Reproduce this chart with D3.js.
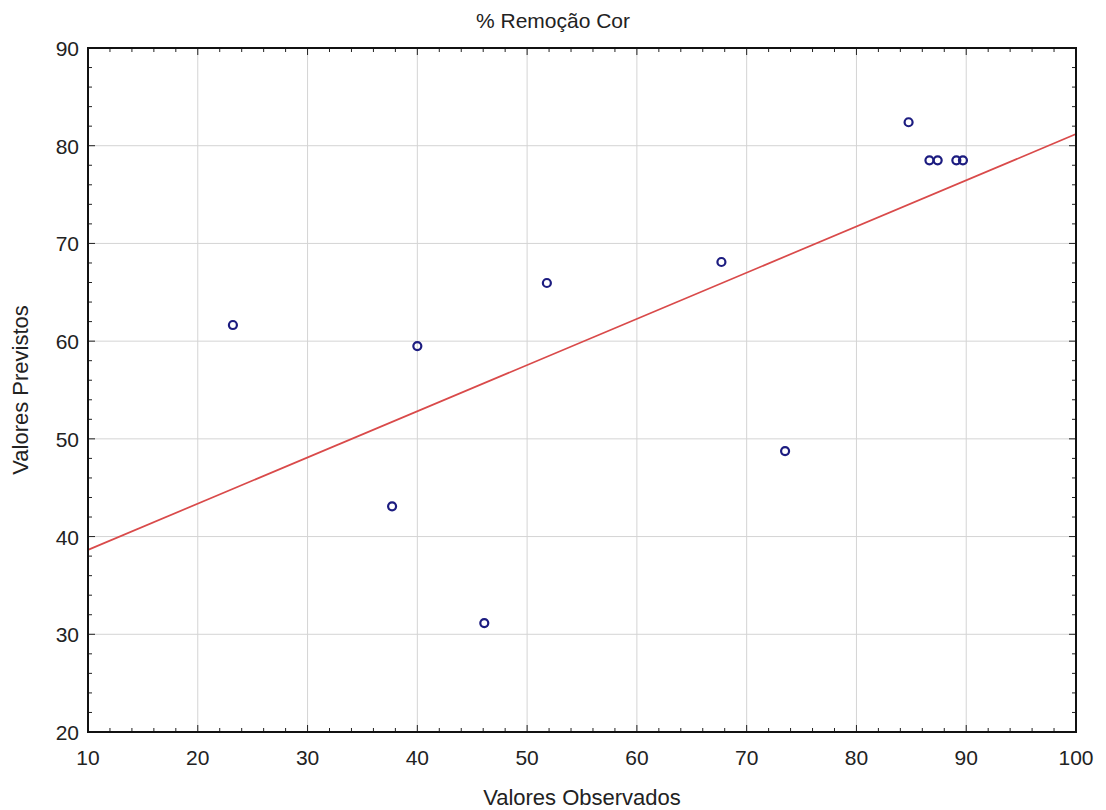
<!DOCTYPE html>
<html>
<head>
<meta charset="utf-8">
<script src="https://cdnjs.cloudflare.com/ajax/libs/d3/7.8.5/d3.min.js"></script>
<style>
  body { margin: 0; background: #fff; }
  text { font-family: "Liberation Sans", Arial, sans-serif; fill: #222; }
</style>
</head>
<body>
<div id="chart"></div>
<script>
// Data
const observed  = [23.2, 40.0, 37.7, 46.1, 51.8, 67.7, 73.5, 84.75, 86.65, 87.4, 89.1, 89.7];
const predicted = [61.65, 59.5, 43.1, 31.15, 65.95, 68.1, 48.75, 82.4, 78.5, 78.5, 78.5, 78.5];
const xTicks = [10, 20, 30, 40, 50, 60, 70, 80, 90, 100];
const yTicks = [20, 30, 40, 50, 60, 70, 80, 90];

const titleText = "% Remoção Cor";
const xLabel = "Valores Observados";
const yLabel = "Valores Previstos";

// Layout
const W = 1106, H = 810;
const margin = { top: 48, right: 30, bottom: 78, left: 88 },
    width = W - margin.left - margin.right,
    height = H - margin.top - margin.bottom;

const svg = d3.select("#chart").append("svg")
    .attr("width", W)
    .attr("height", H);

const g = svg.append("g")
    .attr("transform", "translate(" + margin.left + "," + margin.top + ")");

const x = d3.scaleLinear().domain([10, 100]).range([0, width]);
const y = d3.scaleLinear().domain([20, 90]).range([height, 0]);

// grid
g.append("g").selectAll("line").data(xTicks.slice(1, -1)).enter().append("line")
    .attr("x1", d => x(d)).attr("x2", d => x(d))
    .attr("y1", 0).attr("y2", height)
    .attr("stroke", "#d4d4d4").attr("stroke-width", 1);
g.append("g").selectAll("line").data(yTicks.slice(1, -1)).enter().append("line")
    .attr("y1", d => y(d)).attr("y2", d => y(d))
    .attr("x1", 0).attr("x2", width)
    .attr("stroke", "#d4d4d4").attr("stroke-width", 1);

// regression line (least squares of predicted on observed)
const mx = d3.mean(observed), my = d3.mean(predicted);
const sxy = d3.sum(observed, (v, i) => (v - mx) * (predicted[i] - my));
const sxx = d3.sum(observed, v => (v - mx) * (v - mx));
const slope = sxy / sxx, intercept = my - slope * mx;

g.append("line")
    .attr("x1", x(10)).attr("y1", y(intercept + slope * 10))
    .attr("x2", x(100)).attr("y2", y(intercept + slope * 100))
    .attr("stroke", "#d94a4a").attr("stroke-width", 1.7);

// points
g.selectAll(".pt").data(observed).enter().append("circle")
    .attr("class", "pt")
    .attr("cx", d => x(d))
    .attr("cy", (d, i) => y(predicted[i]))
    .attr("r", 4)
    .attr("fill", "none")
    .attr("stroke", "#1c1c80")
    .attr("stroke-width", 2.2);

// inner ticks on all four sides
const xMinor = d3.range(10, 100.01, 2), yMinor = d3.range(20, 90.01, 2);
function tickLen(v) { return v % 10 === 0 ? 7 : 4; }
const tk = g.append("g").attr("stroke", "#222").attr("stroke-width", 1);
xMinor.forEach(v => {
    tk.append("line").attr("x1", x(v)).attr("x2", x(v)).attr("y1", height).attr("y2", height - tickLen(v));
    tk.append("line").attr("x1", x(v)).attr("x2", x(v)).attr("y1", 0).attr("y2", tickLen(v));
});
yMinor.forEach(v => {
    tk.append("line").attr("y1", y(v)).attr("y2", y(v)).attr("x1", 0).attr("x2", tickLen(v));
    tk.append("line").attr("y1", y(v)).attr("y2", y(v)).attr("x1", width).attr("x2", width - tickLen(v));
});

// frame
g.append("rect")
    .attr("width", width).attr("height", height)
    .attr("fill", "none").attr("stroke", "#111").attr("stroke-width", 2);

// tick labels
g.selectAll(".xl").data(xTicks).enter().append("text")
    .attr("x", d => x(d)).attr("y", height + 33)
    .attr("text-anchor", "middle").attr("font-size", 21)
    .text(d => d);
g.selectAll(".yl").data(yTicks).enter().append("text")
    .attr("x", -9).attr("y", d => y(d) + 8)
    .attr("text-anchor", "end").attr("font-size", 21)
    .text(d => d);

// titles
svg.append("text")
    .attr("x", W / 2).attr("y", 28)
    .attr("text-anchor", "middle").attr("font-size", 21)
    .text(titleText);
svg.append("text")
    .attr("x", margin.left + width / 2).attr("y", 805)
    .attr("text-anchor", "middle").attr("font-size", 22)
    .text(xLabel);
svg.append("text")
    .attr("transform", "translate(28," + (margin.top + height / 2) + ") rotate(-90)")
    .attr("text-anchor", "middle").attr("font-size", 22)
    .text(yLabel);
</script>
</body>
</html>
